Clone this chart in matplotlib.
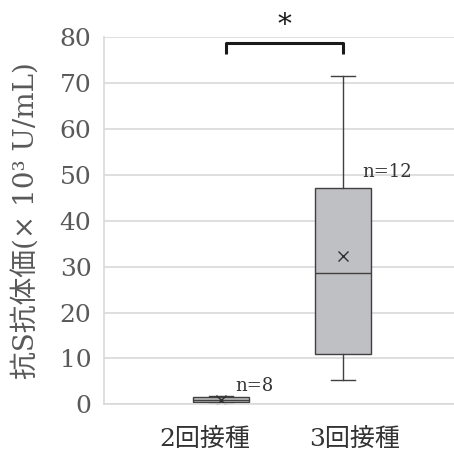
import matplotlib.pyplot as plt

plt.rcParams['font.family'] = ['DejaVu Serif', 'Noto Sans CJK JP']

groups = ['2回接種', '3回接種']
n_labels = ['n=8', 'n=12']
whislo = [0.3, 5.4]
q1 = [0.4, 11.0]
med = [0.9, 28.7]
q3 = [1.5, 47.1]
whishi = [1.8, 71.5]
means = [1.0, 32.3]
yticks = [0, 10, 20, 30, 40, 50, 60, 70, 80]

stats = []
for i in range(len(groups)):
    stats.append(dict(whislo=whislo[i], q1=q1[i], med=med[i], q3=q3[i],
                      whishi=whishi[i], mean=means[i], fliers=[]))

fig = plt.figure(figsize=(4.54, 4.55), dpi=100)
ax = fig.add_axes([0.229, 0.1114, 0.771, 0.807])

edge = '#404040'
ax.bxp(stats, positions=[1, 2], widths=0.46, showmeans=True, patch_artist=True,
       boxprops=dict(facecolor='#bfc0c3', edgecolor=edge, linewidth=1.0),
       medianprops=dict(color=edge, linewidth=1.0),
       whiskerprops=dict(color=edge, linewidth=1.0),
       capprops=dict(color=edge, linewidth=1.0),
       capwidths=0.2,
       meanprops=dict(marker='x', markeredgecolor='#303030', markersize=7, markeredgewidth=1.0))

ax.set_xlim(0.041, 2.91)
ax.set_ylim(0, 80)
ax.set_yticks(yticks)
ax.grid(axis='y', color='#d9d9d9', linewidth=1.2)
ax.set_axisbelow(True)
for s in ['top', 'right']:
    ax.spines[s].set_visible(False)
for s in ['left', 'bottom']:
    ax.spines[s].set_color('#d9d9d9')
    ax.spines[s].set_linewidth(1.2)
ax.tick_params(axis='y', length=0, labelsize=18, labelcolor='#595959', pad=9)
ax.set_xticks([])

# category labels
for x, g in zip([0.869, 2.098], groups):
    ax.text(x, -5.2, g, ha='center', va='top', fontsize=18, color='#333333', clip_on=False)

# n labels
ax.text(1.12, 2.8, n_labels[0], fontsize=13, color='#333333')
ax.text(2.155, 49.5, n_labels[1], fontsize=13, color='#333333')

# significance bracket
ax.plot([1.04, 1.04, 2.0, 2.0], [76.3, 78.8, 78.8, 76.3], color='#1a1a1a', linewidth=2.2,
        clip_on=False, solid_capstyle='butt')
ax.text(1.52, 82.6, '*', ha='center', va='center', fontsize=20, color='#1a1a1a')

ax.set_ylabel('抗S抗体価(× 10³ U/mL)', fontsize=20, color='#595959', labelpad=4)
ax.yaxis.set_label_coords(-0.18, 0.5)

fig.savefig('out.png', dpi=100)
